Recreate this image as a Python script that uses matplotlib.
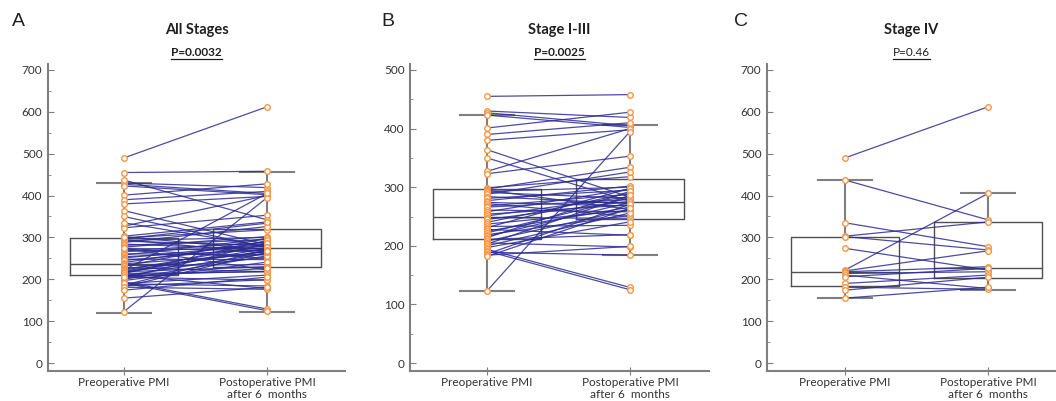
import matplotlib

matplotlib.use("Agg")
import matplotlib.pyplot as plt
from matplotlib.lines import Line2D
from matplotlib.ticker import MultipleLocator

plt.rcParams["font.family"] = ["Lato", "DejaVu Sans"]

# Stage I-III: preoperative -> postoperative PMI (paired)
b_pre = [455, 430, 427, 423, 401, 390, 380, 364, 350, 327, 323, 299, 297,
         295, 293, 291, 288, 284, 281, 277, 274, 272, 268, 266, 261, 258,
         254, 251, 248, 245, 240, 237, 233, 231, 228, 225, 222, 219, 216,
         214, 211, 208, 205, 203, 200, 197, 194, 191, 189, 186, 184, 182, 123]
b_post = [458, 419, 405, 402, 428, 410, 398, 283, 276, 400, 353, 318, 334,
          262, 300, 281, 326, 272, 295, 302, 268, 250, 288, 279, 258, 297,
          270, 284, 247, 276, 290, 261, 235, 298, 218, 266, 282, 252, 274,
          293, 219, 262, 198, 286, 256, 241, 129, 125, 184, 271, 199, 264, 395]

# Stage IV
c_pre = [490, 437, 335, 303, 302, 274, 222, 220, 218, 214, 210, 206, 190,
         181, 174, 155]
c_post = [612, 342, 278, 337, 270, 222, 405, 268, 230, 218, 178, 226, 210,
          176, 205, 181]

# box statistics: (low whisker, q1, median, q3, high whisker)
box_stats = {
    "A": [(120, 210, 237, 298, 430), (123, 229, 275, 320, 457)],
    "B": [(123, 212, 249, 297, 423), (184, 246, 275, 314, 406)],
    "C": [(155, 184, 217, 302, 437), (175, 204, 228, 337, 405)],
}

titles = ["All Stages", "Stage I-III", "Stage IV"]
pvals = ["P=0.0032", "P=0.0025", "P=0.46"]
p_bold = [True, True, False]
letters = ["A", "B", "C"]
yticks_max = [700, 500, 700]
xlabels = ["Preoperative PMI", "Postoperative PMI\nafter 6  months"]

panels = [
    (b_pre + c_pre, b_post + c_post),
    (b_pre, b_post),
    (c_pre, c_post),
]

W, H = 1056, 401
fig = plt.figure(figsize=(W / 100, H / 100), dpi=100)

ax_px = [(48, 297, 0.4186), (410, 299, 0.586), (767, 289, 0.4186)]
x_zero = [124, 487, 845]
unit = 143.0
bottom_px = 371
zero_px = 363
height_px = 307

grey = "#7f7f7f"
dark = "#505050"
orange = "#F79646"
blue = "#2c2c94"
txt = "#333333"

p_texts = []
for i, (pre, post) in enumerate(panels):
    left, width, ppu = ax_px[i]
    ax = fig.add_axes([left / W, 1 - bottom_px / H, width / W, height_px / H])
    ylo = -(bottom_px - zero_px) / ppu
    ax.set_ylim(ylo, ylo + height_px / ppu)
    x0 = -(x_zero[i] - left) / unit
    ax.set_xlim(x0, x0 + width / unit)

    stats = []
    for s in box_stats[letters[i]]:
        stats.append(dict(whislo=s[0], q1=s[1], med=s[2], q3=s[3], whishi=s[4]))
    ax.bxp(stats, positions=[0, 1], widths=0.75, showfliers=False,
           boxprops=dict(color=dark, lw=1.0),
           medianprops=dict(color=dark, lw=1.0),
           whiskerprops=dict(color=grey, lw=1.5),
           capprops=dict(color=grey, lw=1.5), capwidths=0.38,
           manage_ticks=False, zorder=1)

    for a, b in zip(pre, post):
        ax.plot([0, 1], [a, b], color=blue, lw=0.9, alpha=0.85, zorder=2)
    ax.plot([0] * len(pre), pre, "o", ms=4, mfc="white", mec=orange, mew=1,
            zorder=4, ls="none")
    ax.plot([1] * len(post), post, "o", ms=4, mfc="white", mec=orange, mew=1,
            zorder=4, ls="none")

    for sp in ["top", "right"]:
        ax.spines[sp].set_visible(False)
    for sp in ["left", "bottom"]:
        ax.spines[sp].set_color(grey)
        ax.spines[sp].set_linewidth(1.5)
    ax.set_yticks(range(0, yticks_max[i] + 1, 100))
    ax.yaxis.set_minor_locator(MultipleLocator(50))
    ax.tick_params(axis="y", which="major", direction="in", length=4,
                   color=grey, labelsize=8.5, labelcolor=txt, pad=4)
    ax.tick_params(axis="y", which="minor", direction="in", length=2.5,
                   color=grey)
    ax.set_xticks([0, 1])
    ax.set_xticklabels(xlabels, fontsize=8.5, color=txt, linespacing=1.2)
    ax.tick_params(axis="x", direction="inout", length=6, color=grey, pad=1)

    cx = (left + width / 2) / W
    fig.text(cx, 1 - 30 / H, titles[i], ha="center", va="center",
             fontsize=10.5, fontweight="bold", color="#202020")
    t = fig.text(cx, 1 - 52 / H, pvals[i], ha="center", va="center",
                 fontsize=8.5, fontweight="bold" if p_bold[i] else "normal",
                 color="#202020")
    p_texts.append(t)

letter_x = [12, 381, 734]
for lx, letter in zip(letter_x, letters):
    fig.text(lx / W, 1 - 21 / H, letter, ha="left", va="center",
             fontsize=14, family="Liberation Sans", color="#202020")

# underline the p-values
fig.canvas.draw()
r = fig.canvas.get_renderer()
for t in p_texts:
    bb = t.get_window_extent(r)
    y = bb.y0 - 1
    fig.add_artist(Line2D([bb.x0 / W, bb.x1 / W], [y / H, y / H],
                          transform=fig.transFigure, color="#202020", lw=0.9))

fig.savefig("out.png", dpi=100)
